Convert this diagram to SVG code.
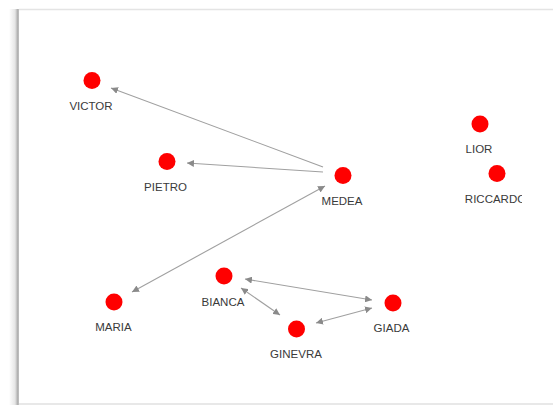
<svg xmlns="http://www.w3.org/2000/svg" width="553" height="405" viewBox="0 0 553 405">
<style>
.node circle{fill:#ff0000;}
.node text{font-family:"Liberation Sans",Arial,sans-serif;font-size:11.5px;fill:#3a3a3a;text-anchor:middle;}
.edges line{stroke:#a0a0a0;stroke-width:1.1;fill:none;}
</style>
<defs>
<linearGradient id="sh" x1="0" y1="0" x2="1" y2="0">
<stop offset="0" stop-color="#ffffff"/>
<stop offset="0.6" stop-color="#e6e6e6"/>
<stop offset="0.9" stop-color="#a8a8a8"/>
<stop offset="1" stop-color="#d0d0d0"/>
</linearGradient>
<marker id="ah" viewBox="0 0 10 10" refX="10" refY="5" markerWidth="7" markerHeight="7" markerUnits="userSpaceOnUse" orient="auto-start-reverse">
<path d="M0,0 L10,5 L0,10 z" fill="#8a8a8a"/>
</marker>
<clipPath id="rc"><rect x="440" y="190" width="82" height="20"/></clipPath>
</defs>
<rect x="0" y="0" width="553" height="405" fill="#ffffff"/>
<rect x="9" y="9" width="10" height="396" fill="url(#sh)"/>
<line x1="19" y1="9.5" x2="553" y2="9.5" stroke="#e4e4e4" stroke-width="1.5"/>
<line x1="19" y1="404" x2="553" y2="404" stroke="#e0e0e0" stroke-width="1.5"/>
<g class="edges">
<line x1="323" y1="167" x2="111" y2="88" marker-end="url(#ah)"/>
<line x1="323" y1="172" x2="187" y2="163" marker-end="url(#ah)"/>
<line x1="132" y1="292" x2="325" y2="186" marker-start="url(#ah)" marker-end="url(#ah)"/>
<line x1="245" y1="279" x2="372" y2="300" marker-start="url(#ah)" marker-end="url(#ah)"/>
<line x1="241" y1="288" x2="280" y2="315" marker-start="url(#ah)" marker-end="url(#ah)"/>
<line x1="316" y1="323" x2="372" y2="308" marker-start="url(#ah)" marker-end="url(#ah)"/>
</g>
<g id="victor" class="node"><circle cx="92" cy="80.5" r="8.5"/><text x="91" y="110">VICTOR</text></g>
<g id="pietro" class="node"><circle cx="167" cy="161.5" r="8.5"/><text x="165.5" y="191">PIETRO</text></g>
<g id="medea" class="node"><circle cx="343" cy="175.5" r="8.5"/><text x="342" y="205">MEDEA</text></g>
<g id="maria" class="node"><circle cx="114" cy="302" r="8.5"/><text x="113.5" y="331">MARIA</text></g>
<g id="bianca" class="node"><circle cx="224" cy="276" r="8.5"/><text x="223" y="306">BIANCA</text></g>
<g id="ginevra" class="node"><circle cx="296.5" cy="329" r="8.5"/><text x="296" y="358">GINEVRA</text></g>
<g id="giada" class="node"><circle cx="393" cy="303" r="8.5"/><text x="391.5" y="332">GIADA</text></g>
<g id="lior" class="node"><circle cx="480" cy="124" r="8.5"/><text x="479" y="153">LIOR</text></g>
<g id="riccardo" class="node"><circle cx="497" cy="173.5" r="8.5"/><text x="495.5" y="203" clip-path="url(#rc)">RICCARDO</text></g>
</svg>
